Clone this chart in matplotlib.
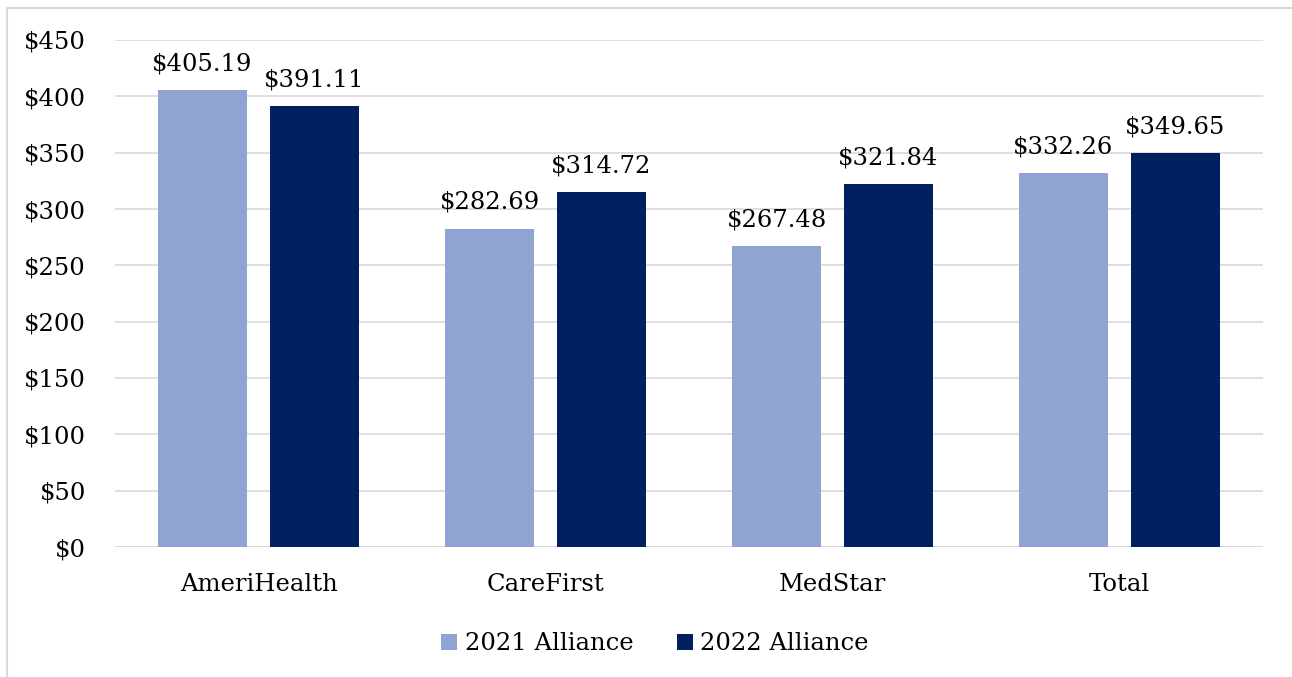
import matplotlib
matplotlib.use("Agg")
import matplotlib.pyplot as plt
import numpy as np
from matplotlib.patches import Rectangle

categories = ["AmeriHealth", "CareFirst", "MedStar", "Total"]
series_names = ["2021 Alliance", "2022 Alliance"]
values_2021 = [405.19, 282.69, 267.48, 332.26]
values_2022 = [391.11, 314.72, 321.84, 349.65]
colors = ["#8FA4D1", "#002060"]

plt.rcParams['font.family'] = ['DejaVu Serif']
W, H = 1292, 677
fig = plt.figure(figsize=(W/100, H/100), dpi=100)
ax = fig.add_axes([115/W, 1-547/H, (1263-115)/W, (547-40)/H])

x = np.arange(len(categories))
bw = 0.307
off = 0.195
fs = 17.5
b1 = ax.bar(x - off, values_2021, bw, color=colors[0], label=series_names[0], zorder=3)
b2 = ax.bar(x + off, values_2022, bw, color=colors[1], label=series_names[1], zorder=3)
for bars, vals in ((b1, values_2021), (b2, values_2022)):
    for r, v in zip(bars, vals):
        ax.annotate(f"${v:.2f}", (r.get_x() + r.get_width()/2, v), xytext=(0, 10.5),
                    textcoords="offset points", ha="center", va="bottom", fontsize=fs, color="black")

ax.set_xlim(-0.5, len(categories) - 0.5)
ax.set_ylim(0, 450)
ax.set_yticks(np.arange(0, 451, 50))
ax.set_yticklabels([f"${t}" for t in range(0, 451, 50)], fontsize=fs)
ax.set_xticks(x)
ax.set_xticklabels(categories, fontsize=fs)
ax.tick_params(axis='both', length=0, colors='black')
ax.tick_params(axis='y', pad=21)
ax.tick_params(axis='x', pad=19)
ax.grid(axis='y', color='#D9D9D9', linewidth=1.2, zorder=0)
for s in ax.spines.values():
    s.set_visible(False)
ax.axhline(0, color='#D9D9D9', linewidth=1.5, zorder=2)

leg = fig.legend(loc='center', bbox_to_anchor=(655/W, 1-644/H), ncol=2, frameon=False,
                 fontsize=fs, handlelength=0.66, handleheight=0.66, handletextpad=0.3, columnspacing=1.8)

fig.patches.append(Rectangle((7/W, -0.1), 1.2, 1 - 8/H + 0.1, transform=fig.transFigure,
                             fill=False, edgecolor='#D9D9D9', linewidth=1.5))
fig.savefig("out.png", dpi=100)
